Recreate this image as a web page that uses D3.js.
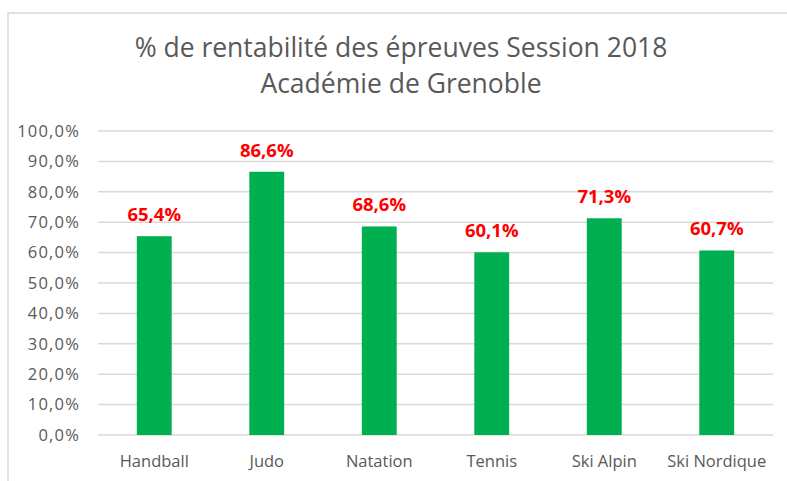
<!DOCTYPE html>
<html>
<head>
<meta charset="utf-8">
<script src="https://cdn.jsdelivr.net/npm/d3@7"></script>
<style>
  body { margin: 0; background: #fff; }
  text { font-family: "Open Sans", "Noto Sans", sans-serif; }
</style>
</head>
<body>
<div id="viz-container"></div>
<script>
// chart data
const categories = ["Handball", "Judo", "Natation", "Tennis", "Ski Alpin", "Ski Nordique"];
const values = [65.4, 86.6, 68.6, 60.1, 71.3, 60.7];
const tickValues = [0, 10, 20, 30, 40, 50, 60, 70, 80, 90, 100];
const titleLines = ["% de rentabilité des épreuves Session 2018", "Académie de Grenoble"];

const drawChart = () => {
    const width = 787;
    const height = 481;

    const svg = d3.select('#viz-container')
        .append("svg")
        .attr("width", width)
        .attr("height", height);

    // chart frame (cut off on the right and bottom in the original)
    svg.append("rect")
        .attr("x", 8)
        .attr("y", 13)
        .attr("width", 820)
        .attr("height", 500)
        .attr("fill", "none")
        .attr("stroke", "#d9d9d9")
        .attr("stroke-width", 1.5);

    const plot = { left: 98, right: 773, top: 131, bottom: 435 };

    const x = d3.scaleBand()
        .domain(categories)
        .range([plot.left, plot.right])
        .paddingInner(0.69)
        .paddingOuter(0.345);

    const y = d3.scaleLinear()
        .domain([0, 100])
        .range([plot.bottom, plot.top]);

    // title
    svg.append("g")
        .selectAll("text")
        .data(titleLines)
        .join("text")
        .attr("x", 401)
        .attr("y", (d, i) => 57 + i * 36)
        .attr("text-anchor", "middle")
        .attr("font-size", 26.5)
        .attr("fill", "#595959")
        .text(d => d);

    // gridlines
    svg.append("g")
        .attr("class", "grid")
        .selectAll("line")
        .data(tickValues)
        .join("line")
        .attr("x1", plot.left)
        .attr("x2", plot.right)
        .attr("y1", d => y(d))
        .attr("y2", d => y(d))
        .attr("stroke", "#d9d9d9")
        .attr("stroke-width", 1.5);

    // y axis labels
    const yAxis = svg.append("g")
        .attr("transform", `translate(${plot.left - 18},0)`)
        .call(d3.axisLeft(y)
            .tickValues(tickValues)
            .tickSize(0)
            .tickPadding(0)
            .tickFormat(d => d3.format(".1f")(d).replace(".", ",") + "%"));
    yAxis.select(".domain").remove();
    yAxis.selectAll("text")
        .attr("font-size", 16.5)
        .attr("letter-spacing", 1.2)
        .attr("fill", "#595959");

    // bars
    svg.append("g")
        .attr("class", "bars")
        .selectAll("rect")
        .data(values)
        .join("rect")
        .attr("x", (d, i) => x(categories[i]))
        .attr("y", d => y(d))
        .attr("width", x.bandwidth())
        .attr("height", d => y(0) - y(d))
        .attr("fill", "#00b050");

    // value labels
    svg.append("g")
        .selectAll("text")
        .data(values)
        .join("text")
        .attr("x", (d, i) => x(categories[i]) + x.bandwidth() / 2)
        .attr("y", d => y(d) - 15)
        .attr("text-anchor", "middle")
        .attr("font-size", 18.5)
        .attr("font-weight", "bold")
        .attr("fill", "#ff0000")
        .text(d => d3.format(".1f")(d).replace(".", ",") + "%");

    // x axis labels
    const xAxis = svg.append("g")
        .attr("transform", `translate(0,${plot.bottom + 20})`)
        .call(d3.axisBottom(x).tickSize(0).tickPadding(0));
    xAxis.select(".domain").remove();
    xAxis.selectAll("text")
        .attr("font-size", 16.5)
        .attr("fill", "#595959");
};

drawChart();
</script>
</body>
</html>
